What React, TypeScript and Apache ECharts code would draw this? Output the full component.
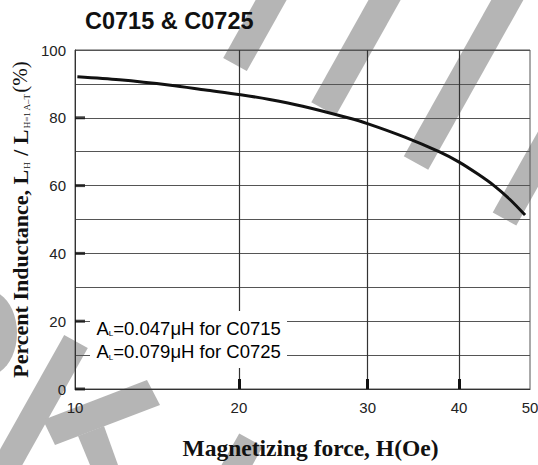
import React, { useEffect, useRef } from 'react';
import * as echarts from 'echarts';

// ---- data ----
const titleText = 'C0715 & C0725';
const xTickValues = [11.94, 20, 30, 40, 50];
const xTickLabels = ['10', '20', '30', '40', '50'];
const xGridValues = [20, 30, 40];
const yTickValues = [0, 20, 40, 60, 80];
const fieldH = [12.03, 13.73, 16.13, 18.01, 20.11, 22.03, 24.45, 28.18, 29.97, 33.72, 37.55, 39.95, 42.43, 44.64, 46.94, 49.23];
const inductancePct = [92.1, 91.2, 89.6, 88.2, 86.8, 85.4, 83.4, 80.0, 78.3, 74.3, 70.0, 67.0, 63.4, 60.0, 55.9, 51.3];
const legendValues = ['0.047', '0.079'];
const legendParts = ['C0715', 'C0725'];
const xName = 'Magnetizing force, H(Oe)';

export default function App() {
  const ref = useRef<HTMLDivElement>(null);
  useEffect(() => {
    const chart = echarts.init(ref.current as HTMLDivElement, null, { renderer: 'svg' });
    const data = fieldH.map((h, i) => [h, inductancePct[i]]);
    const yTickMarks = yTickValues.map((v) => [xTickValues[0], v]);
    const gray = '#b5b5b5';
    const ux = 0.489, uy = -0.873, nx = 0.873, ny = 0.489;
    const stripe = (cx: number, cy: number, len: number, w: number, sign: number) => {
      const hw = w / 2;
      const dx = ux * len * sign, dy = uy * len * sign;
      return [
        [cx - nx * hw, cy - ny * hw],
        [cx + nx * hw, cy + ny * hw],
        [cx + nx * hw + dx, cy + ny * hw + dy],
        [cx - nx * hw + dx, cy - ny * hw + dy],
      ];
    };
    const wm = (points: number[][]) => ({ type: 'polygon', z: -10, silent: true, shape: { points }, style: { fill: gray } });
    const watermark: any[] = [
      wm(stripe(235, 64.5, 100, 27, 1)),
      wm(stripe(323.5, 109, 160, 28, 1)),
      wm(stripe(416, 163, 220, 28, 1)),
      wm(stripe(504.5, 219, 150, 27, 1)),
      wm(stripe(76, 341.5, 170, 27, -1)),
      wm(stripe(251, 440, 60, 27, -1)),
      wm([[43, 420], [147, 380], [160, 405], [55, 445]]),
      wm([[78, 436], [104, 426], [118, 465], [90, 465]]),
      { type: 'ellipse', z: -10, silent: true, shape: { cx: -13, cy: 333, rx: 30, ry: 43 }, style: { fill: gray } },
    ];
    const legendRich = {
      a: { fontFamily: 'Liberation Sans, Arial, sans-serif', fontSize: 18.5, color: '#222' },
      s: { fontFamily: 'Liberation Sans, Arial, sans-serif', fontSize: 8, color: '#222', verticalAlign: 'bottom' },
    };
    const option: any = {
      animation: false,
      backgroundColor: '#ffffff',
      grid: { left: 75, right: 8, top: 50, bottom: 76, show: true, borderColor: '#555', borderWidth: 1, outerBoundsMode: 'none' },
      xAxis: {
        type: 'log',
        min: xTickValues[0],
        max: xTickValues[xTickValues.length - 1],
        name: xName,
        nameLocation: 'middle',
        nameGap: 47,
        nameMoveOverlap: false,
        nameTextStyle: { fontFamily: 'Liberation Serif, Times New Roman, serif', fontWeight: 'bold', fontSize: 23.5, color: '#111', padding: [0, 0, 0, 16] },
        axisLine: { show: true, lineStyle: { color: '#333', width: 1 } },
        axisTick: { show: true, inside: true, length: 10, customValues: xGridValues, lineStyle: { color: '#111', width: 3 } },
        axisLabel: {
          customValues: xTickValues,
          showMinLabel: true,
          showMaxLabel: true,
          margin: 11,
          fontFamily: 'Liberation Sans, Arial, sans-serif',
          fontSize: 15,
          color: '#222',
          formatter: (v: number) => {
            let best = 0;
            xTickValues.forEach((t, i) => { if (Math.abs(t - v) < Math.abs(xTickValues[best] - v)) best = i; });
            return xTickLabels[best];
          },
        },
        splitLine: { show: true, lineStyle: { color: '#333', width: 1.2 } },
        minorTick: { show: false },
        minorSplitLine: { show: false },
      },
      yAxis: {
        type: 'value',
        min: 0,
        max: 100,
        interval: 20,
        name: '{b|Percent Inductance, L}{s|H}{b| / L}{s|H=1 A–T}{p|(%)}',
        nameLocation: 'middle',
        nameRotate: 90,
        nameGap: 44,
        nameMoveOverlap: false,
        nameTextStyle: {
          fontFamily: 'Liberation Serif, Times New Roman, serif', fontWeight: 'bold', fontSize: 22, color: '#111',
          rich: {
            b: { fontFamily: 'Liberation Serif, Times New Roman, serif', fontWeight: 'bold', fontSize: 22, color: '#111' },
            s: { fontFamily: 'Liberation Serif, Times New Roman, serif', fontWeight: 'normal', fontSize: 9, color: '#111', verticalAlign: 'bottom', padding: [0, 1, 0, 1] },
            p: { fontFamily: 'Liberation Serif, Times New Roman, serif', fontWeight: 'normal', fontSize: 21, color: '#111' },
          },
        },
        axisLine: { show: true, lineStyle: { color: '#333', width: 1 } },
        axisTick: { show: false },
        axisLabel: { margin: 9, fontFamily: 'Liberation Sans, Arial, sans-serif', fontSize: 15, color: '#222' },
        splitLine: { show: true, lineStyle: { color: '#555', width: 1.2 } },
        minorTick: { show: false, splitNumber: 2 },
        minorSplitLine: { show: true, lineStyle: { color: '#555', width: 1.2 } },
      },
      graphic: [
        ...watermark,
        { type: 'rect', z: 1, silent: true, shape: { x: 90, y: 311, width: 197, height: 57 }, style: { fill: '#ffffff' } },
        {
          type: 'text', z: 3, x: 96.5, y: 328, silent: true,
          style: { text: `{a|A}{s|L}{a|=${legendValues[0]}μH for ${legendParts[0]}}`, rich: legendRich, verticalAlign: 'middle', align: 'left' },
        },
        {
          type: 'text', z: 3, x: 96.5, y: 351.5, silent: true,
          style: { text: `{a|A}{s|L}{a|=${legendValues[1]}μH for ${legendParts[1]}}`, rich: legendRich, verticalAlign: 'middle', align: 'left' },
        },
        {
          type: 'text', z: 3, x: 85, y: 21, silent: true,
          style: { text: titleText, fontFamily: 'Liberation Sans, Arial, sans-serif', fontWeight: 'bold', fontSize: 23.5, fill: '#111', verticalAlign: 'middle', align: 'left' },
        },
      ],
      series: [
        {
          type: 'line',
          data,
          smooth: 0.3,
          showSymbol: false,
          symbol: 'none',
          lineStyle: { color: '#111', width: 3 },
          z: 5,
        },
        {
          type: 'scatter',
          data: yTickMarks,
          symbol: 'rect',
          symbolSize: [10, 3],
          symbolOffset: [5, 0],
          itemStyle: { color: '#111' },
          silent: true,
          clip: false,
          z: 4,
        },
      ],
    };
    chart.setOption(option);
    return () => chart.dispose();
  }, []);
  return <div ref={ref} style={{ position: 'absolute', left: 0, top: 0, width: 538, height: 465 }} />;
}
